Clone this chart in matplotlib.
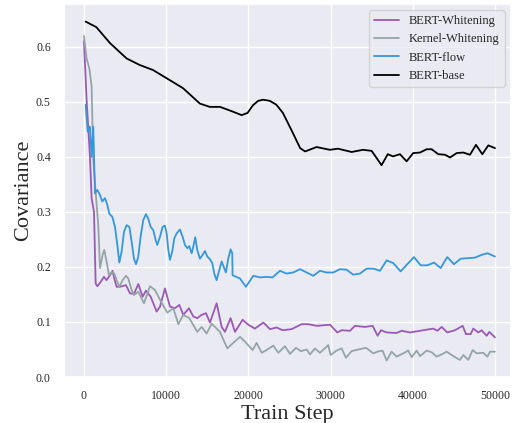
import matplotlib
matplotlib.use("Agg")
import matplotlib.pyplot as plt
import seaborn as sns

# valores
base_x = [200, 1500, 3160, 5190, 6800, 8400, 10060, 12050, 14100, 15300, 16550, 18000,
          19180, 19900, 20560, 21200, 21800, 22600, 23400, 24200, 25300, 26300, 26900,
          28300, 29900, 30900, 32560, 33960, 35000, 36200, 36960, 37600, 38440, 39250,
          40050, 40880, 41690, 42300, 43100, 43920, 44530, 45340, 46150, 46960, 47690,
          48460, 49190, 50000]
base_y = [0.646, 0.636, 0.607, 0.579, 0.567, 0.558, 0.543, 0.525, 0.497, 0.491, 0.491,
          0.483, 0.476, 0.480, 0.494, 0.502, 0.504, 0.502, 0.495, 0.480, 0.447, 0.416,
          0.410, 0.418, 0.413, 0.415, 0.409, 0.413, 0.411, 0.385, 0.405, 0.401, 0.405,
          0.392, 0.407, 0.408, 0.414, 0.414, 0.405, 0.404, 0.399, 0.407, 0.408, 0.404,
          0.422, 0.405, 0.421, 0.416]

flow_x = [200, 450, 730, 930, 1130, 1340, 1620, 1950, 2230, 2550, 2840, 3080, 3450,
          3770, 4060, 4300, 4580, 4870, 5190, 5520, 5800, 6080, 6330, 6610, 6890, 7210,
          7540, 7820, 8110, 8430, 8720, 8920, 9250, 9570, 9850, 10060, 10260, 10460,
          10740, 10990, 11270, 11680, 12000, 12290, 12570, 12810, 13100, 13300, 13540,
          13780, 14110, 14430, 14720, 15000, 15330, 15610, 15850, 16140, 16420, 16750,
          17030, 17270, 17550, 17840, 18040, 18080, 18980, 19700, 20600, 21400, 22220,
          22940, 23840, 24650, 25460, 26280, 27090, 27900, 28710, 29520, 30330, 31140,
          31950, 32760, 33580, 34390, 35200, 36010, 36820, 37630, 38520, 39330, 40150,
          40960, 41770, 42580, 43390, 44200, 45010, 45830, 46750, 47570, 48380, 49100,
          50000]
flow_y = [0.495, 0.446, 0.455, 0.400, 0.455, 0.334, 0.340, 0.331, 0.319, 0.325, 0.313,
          0.297, 0.291, 0.273, 0.240, 0.208, 0.228, 0.264, 0.276, 0.273, 0.246, 0.215,
          0.205, 0.219, 0.255, 0.285, 0.296, 0.288, 0.273, 0.267, 0.249, 0.240, 0.255,
          0.273, 0.275, 0.261, 0.231, 0.213, 0.228, 0.252, 0.261, 0.268, 0.255, 0.240,
          0.234, 0.238, 0.225, 0.237, 0.254, 0.231, 0.215, 0.222, 0.229, 0.219, 0.214,
          0.207, 0.188, 0.176, 0.192, 0.210, 0.199, 0.190, 0.215, 0.232, 0.225, 0.185,
          0.179, 0.164, 0.184, 0.181, 0.182, 0.181, 0.193, 0.188, 0.190, 0.196, 0.190,
          0.184, 0.193, 0.190, 0.190, 0.196, 0.195, 0.186, 0.188, 0.197, 0.197, 0.193,
          0.212, 0.207, 0.192, 0.205, 0.218, 0.203, 0.203, 0.208, 0.198, 0.218, 0.205,
          0.215, 0.216, 0.217, 0.222, 0.225, 0.219]

white_x = [0, 320, 730, 930, 1220, 1420, 1620, 1950, 2430, 2750, 3160, 3480, 3690,
           3970, 4380, 5110, 5600, 6080, 6610, 7140, 7540, 8110, 8840, 9250, 9850, 10460,
           11070, 11600, 12080, 12770, 13300, 13780, 14320, 14840, 15330, 16140, 16750,
           17150, 17840, 18370, 19300, 19990, 20800, 21820, 22630, 23440, 24170, 25260,
           26480, 27290, 28300, 29930, 30820, 31340, 32360, 32970, 34180, 35120, 35720,
           36130, 36820, 38030, 38640, 39660, 42490, 43000, 43510, 44200, 45130, 46070,
           46470, 47040, 47360, 47970, 48380, 48990, 49310, 50000]
white_y = [0.610, 0.504, 0.400, 0.325, 0.300, 0.170, 0.165, 0.171, 0.182, 0.176, 0.185,
           0.193, 0.179, 0.164, 0.164, 0.167, 0.152, 0.151, 0.169, 0.146, 0.157, 0.146,
           0.119, 0.128, 0.161, 0.128, 0.125, 0.131, 0.113, 0.125, 0.110, 0.107, 0.113,
           0.116, 0.099, 0.134, 0.091, 0.082, 0.107, 0.082, 0.104, 0.095, 0.088, 0.099,
           0.087, 0.090, 0.085, 0.087, 0.096, 0.096, 0.093, 0.095, 0.081, 0.085, 0.084,
           0.093, 0.091, 0.093, 0.075, 0.085, 0.081, 0.080, 0.084, 0.081, 0.088, 0.084,
           0.091, 0.081, 0.085, 0.093, 0.078, 0.078, 0.088, 0.081, 0.085, 0.075, 0.082,
           0.072]

kernel_x = [0, 320, 650, 930, 1130, 1460, 1740, 1950, 2270, 2470, 2750, 3040, 3370,
            3690, 3970, 4300, 4700, 5110, 5390, 5800, 6080, 6610, 7300, 8030, 8640, 9370,
            10140, 10870, 11480, 12080, 12810, 13780, 14320, 14920, 15530, 16540, 17430,
            18160, 18980, 19600, 20520, 21000, 21620, 22220, 23030, 23640, 24450, 25060,
            25790, 26400, 27090, 27490, 28100, 28710, 29720, 30000, 30730, 31340, 31870,
            32560, 33370, 34310, 35200, 35700, 36320, 36820, 37420, 38030, 38840, 39450,
            39860, 40470, 40880, 41690, 42300, 42900, 43500, 44120, 44930, 45740, 46150,
            46750, 47290, 47770, 48580, 49070, 49390, 50000]
kernel_y = [0.620, 0.579, 0.561, 0.528, 0.395, 0.328, 0.276, 0.198, 0.222, 0.231, 0.210,
            0.185, 0.191, 0.188, 0.176, 0.164, 0.176, 0.184, 0.179, 0.158, 0.149, 0.155,
            0.134, 0.165, 0.158, 0.137, 0.117, 0.125, 0.096, 0.113, 0.107, 0.082, 0.091,
            0.079, 0.097, 0.082, 0.052, 0.062, 0.073, 0.064, 0.049, 0.062, 0.044, 0.049,
            0.057, 0.044, 0.056, 0.042, 0.053, 0.047, 0.050, 0.041, 0.052, 0.044, 0.058,
            0.040, 0.048, 0.052, 0.035, 0.047, 0.050, 0.053, 0.043, 0.046, 0.048, 0.030,
            0.046, 0.037, 0.043, 0.048, 0.036, 0.048, 0.038, 0.048, 0.045, 0.037, 0.041,
            0.046, 0.038, 0.031, 0.040, 0.031, 0.049, 0.043, 0.044, 0.037, 0.046, 0.046]

sns.set_theme(style="darkgrid")
plt.rcParams['font.family'] = ['Liberation Serif', 'DejaVu Serif']

fig = plt.figure(figsize=(5.13, 4.23), dpi=100)
ax = fig.add_axes([64 / 513, 46 / 423, 447 / 513, 373 / 423])

ax.plot(white_x, white_y, color='#9b59b6', lw=1.3, label='BERT-Whitening')
ax.plot(kernel_x, kernel_y, color='#95a5a6', lw=1.3, label='Kernel-Whitening')
ax.plot(flow_x, flow_y, color='#3498db', lw=1.3, label='BERT-flow')
ax.plot(base_x, base_y, color='black', lw=1.3, label='BERT-base')

ax.set_xlim(-2430, 51950)
ax.set_ylim(0, 0.678)
ax.set_xticks([0, 10000, 20000, 30000, 40000, 50000])
ax.set_yticks([0.0, 0.1, 0.2, 0.3, 0.4, 0.5, 0.6])
ax.tick_params(labelsize=8.5)
ax.set_xlabel('Train Step', fontsize=16, labelpad=2)
ax.set_ylabel('Covariance', fontsize=16, labelpad=2)
ax.legend(loc='upper right', fontsize=9)

fig.savefig('out.png', dpi=100)
